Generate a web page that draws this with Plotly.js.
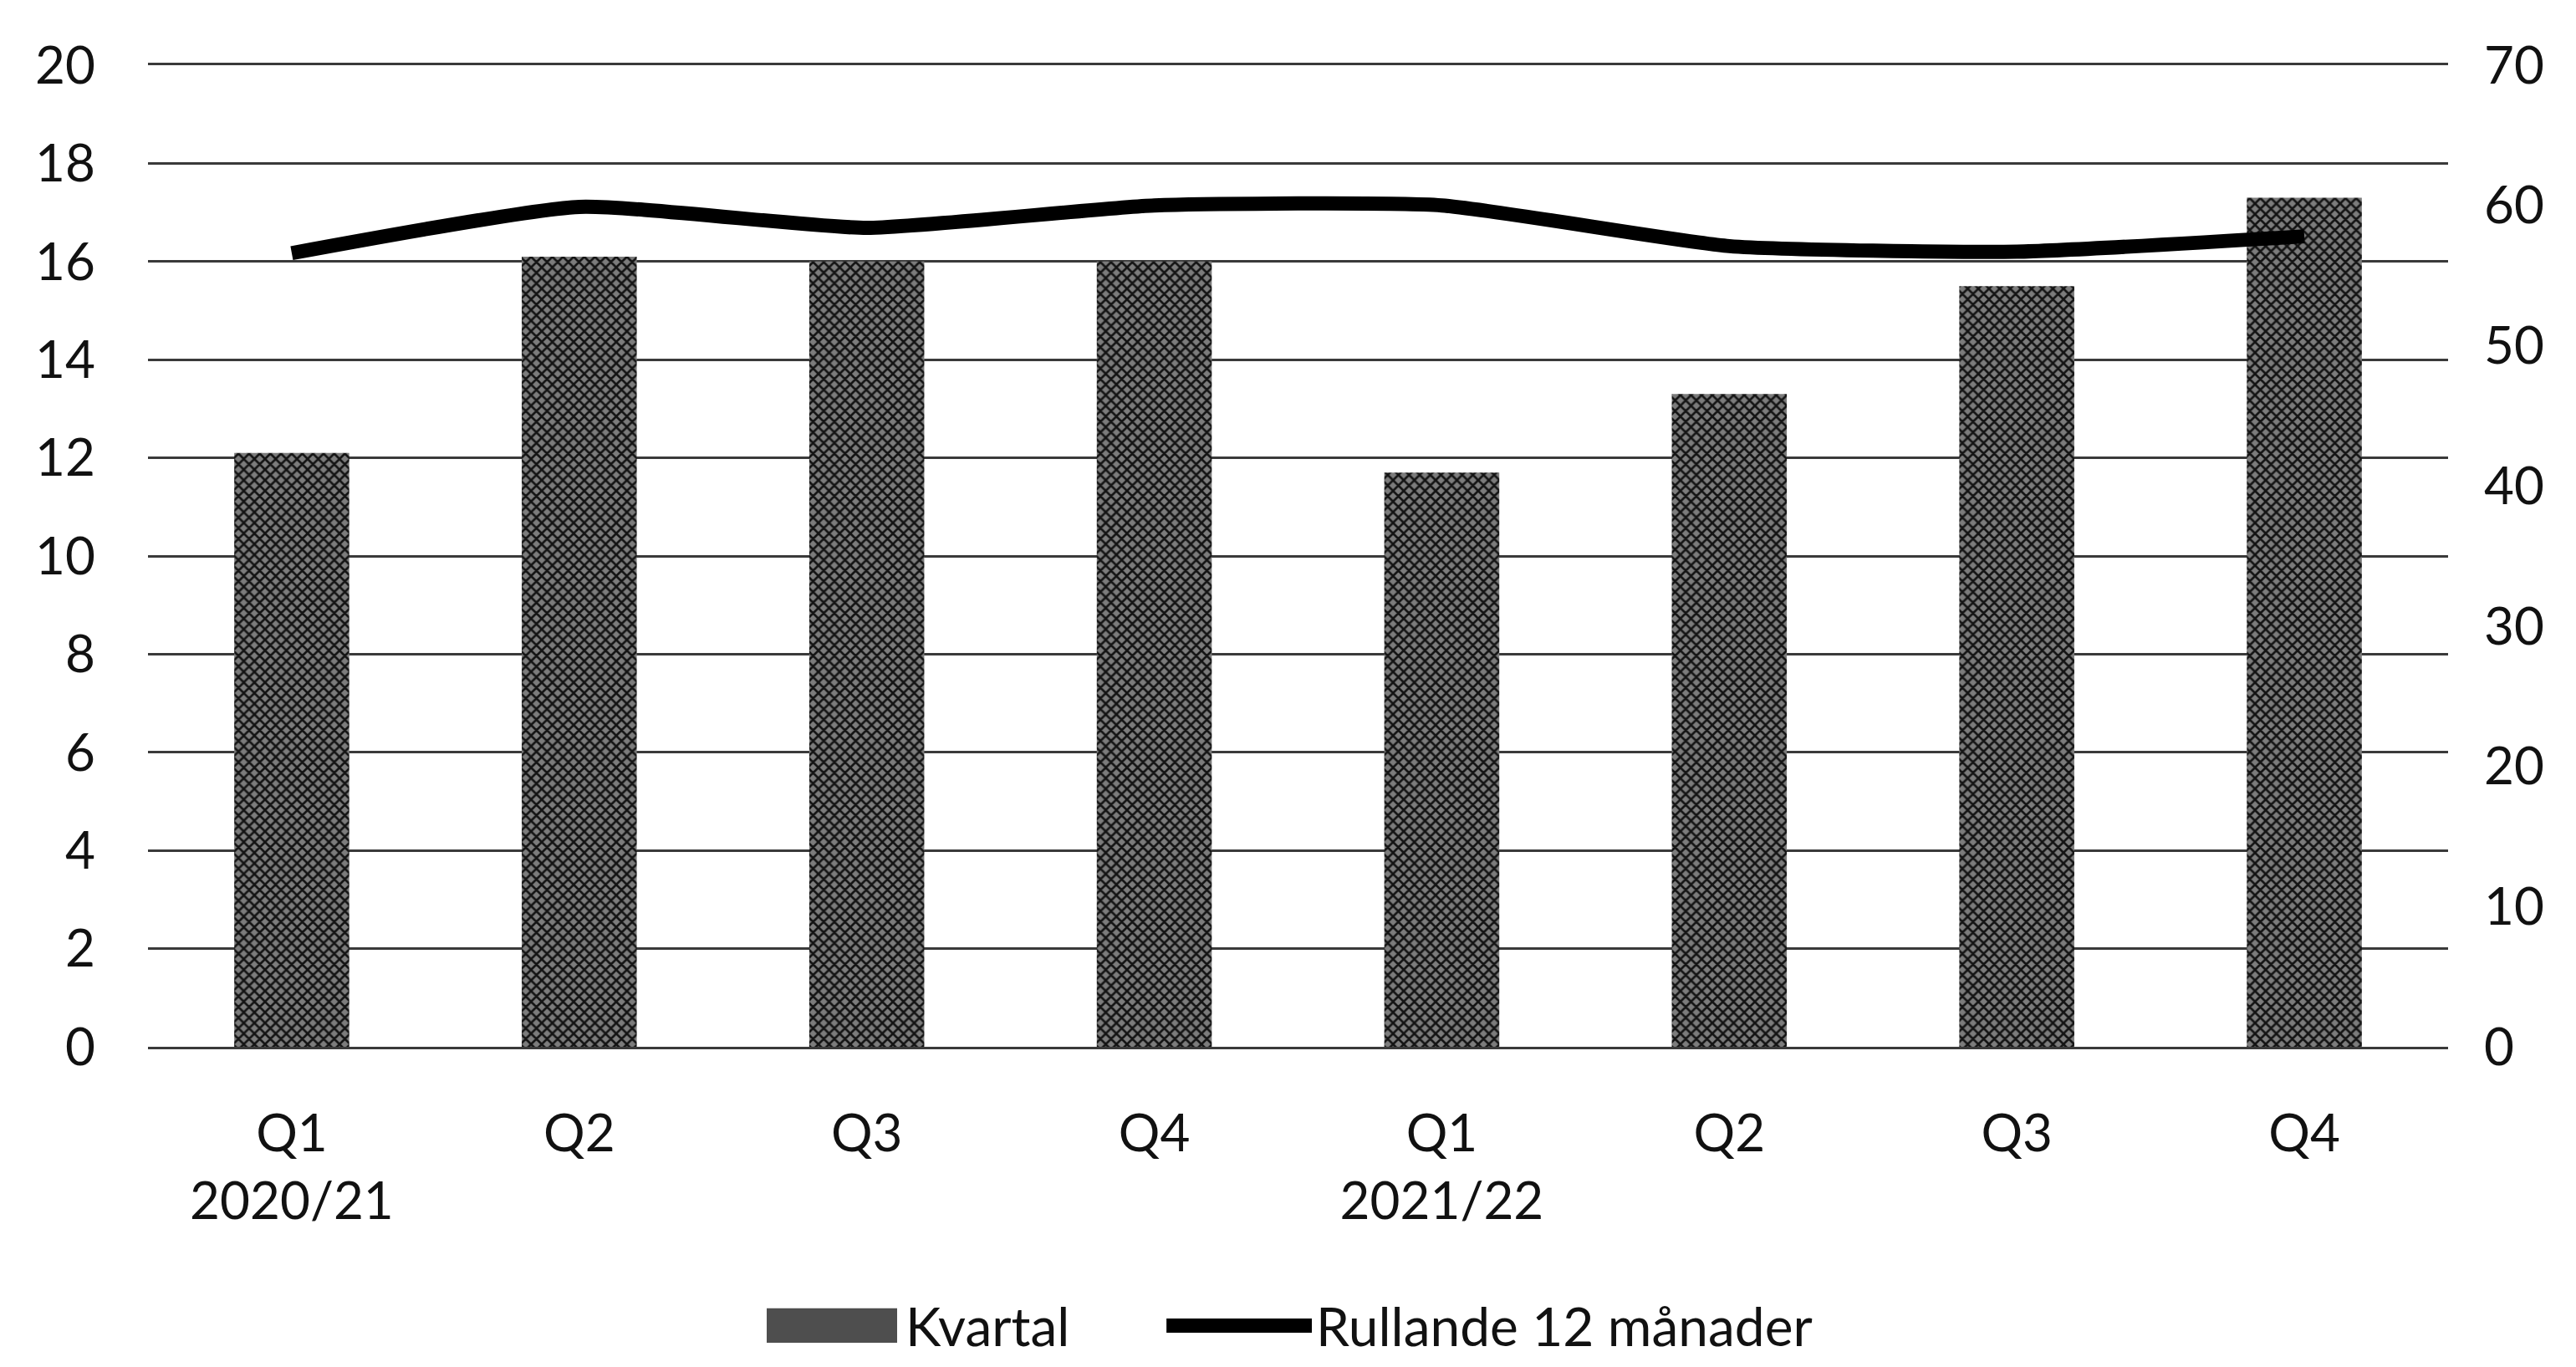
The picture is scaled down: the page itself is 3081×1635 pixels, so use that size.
<!DOCTYPE html>
<html>
<head>
<meta charset="utf-8">
<script src="https://cdn.plot.ly/plotly-3.0.1.min.js"></script>
<style>
  html, body { margin: 0; padding: 0; background: #ffffff; }
  #chart { width: 3081px; height: 1635px; }
</style>
</head>
<body>
<div id="chart"></div>
<script>
// ---- data ----
const quarters = ["Q1", "Q2", "Q3", "Q4", "Q1", "Q2", "Q3", "Q4"];
const fiscalYears = ["2020/21", "2020/21", "2020/21", "2020/21", "2021/22", "2021/22", "2021/22", "2021/22"];
const kvartal = [12.1, 16.1, 16.0, 16.0, 11.7, 13.3, 15.5, 17.3];
const rullande = [56.6, 59.9, 58.4, 60.0, 60.0, 57.1, 56.7, 57.8];
const leftTicks = [0, 2, 4, 6, 8, 10, 12, 14, 16, 18, 20];
const rightTicks = [0, 10, 20, 30, 40, 50, 60, 70];
const seriesNames = ["Kvartal", "Rullande 12 månader"];

// unique category keys, with labels showing the year only under each Q1
const categories = quarters.map((q, i) => q + " " + fiscalYears[i]);
const tickLabels = quarters.map((q, i) =>
  (i === 0 || fiscalYears[i] !== fiscalYears[i - 1]) ? q + "<br>" + fiscalYears[i] : q);

const FONT = "Lato, 'Open Sans', sans-serif";
const BAR_FILL = "#6a6a6a";
const TEXT = "#111111";

const traces = [
  {
    type: "bar",
    name: seriesNames[0],
    x: categories,
    y: kvartal,
    width: 0.4,
    marker: {
      color: BAR_FILL,
      line: { width: 0 },
      pattern: { shape: "x", fgcolor: "#141414", bgcolor: "#7c7c7c", size: 9, solidity: 0.5 }
    },
    hoverinfo: "skip",
    showlegend: false
  },
  {
    type: "scatter",
    mode: "lines",
    name: seriesNames[1],
    x: categories,
    y: rullande,
    yaxis: "y2",
    line: { color: "#000000", width: 17, shape: "spline", smoothing: 0.5 },
    hoverinfo: "skip",
    showlegend: false
  }
];

// legend drawn in paper coordinates below the plot
const legendY = -0.284;
const layout = {
  width: 3081,
  height: 1635,
  paper_bgcolor: "#ffffff",
  plot_bgcolor: "#ffffff",
  margin: { l: 177, r: 153, t: 78, b: 383, pad: 0 },
  font: { family: FONT, size: 62, color: TEXT },
  showlegend: false,
  xaxis: {
    type: "category",
    tickmode: "array",
    tickvals: categories,
    ticktext: tickLabels,
    showgrid: false,
    zeroline: false,
    showline: true,
    mirror: true,
    linecolor: "#3a3a3a",
    linewidth: 3,
    ticks: "",
    ticklabelstandoff: 48,
    tickfont: { family: FONT, size: 62, color: TEXT }
  },
  yaxis: {
    range: [0, 20],
    tickmode: "array",
    tickvals: leftTicks,
    showgrid: true,
    gridcolor: "#3a3a3a",
    gridwidth: 3,
    zeroline: false,
    showline: false,
    ticks: "",
    ticklabelstandoff: 62,
    tickfont: { family: FONT, size: 62, color: TEXT }
  },
  yaxis2: {
    range: [0, 70],
    overlaying: "y",
    side: "right",
    tickmode: "array",
    tickvals: rightTicks,
    showgrid: false,
    zeroline: false,
    showline: false,
    ticks: "",
    ticklabelstandoff: 42,
    tickfont: { family: FONT, size: 62, color: TEXT }
  },
  shapes: [
    {
      type: "rect", xref: "paper", yref: "paper",
      x0: 0.2690, x1: 0.3257, y0: legendY - 0.0175, y1: legendY + 0.0175,
      fillcolor: "#4e4e4e", line: { width: 0 }
    },
    {
      type: "line", xref: "paper", yref: "paper",
      x0: 0.4428, x1: 0.5060, y0: legendY, y1: legendY,
      line: { color: "#000000", width: 17 }
    }
  ],
  annotations: [
    {
      xref: "paper", yref: "paper", x: 0.3290, y: legendY,
      xanchor: "left", yanchor: "middle", showarrow: false, borderpad: 0,
      text: seriesNames[0], font: { family: FONT, size: 64, color: TEXT }
    },
    {
      xref: "paper", yref: "paper", x: 0.5075, y: legendY,
      xanchor: "left", yanchor: "middle", showarrow: false, borderpad: 0,
      text: seriesNames[1], font: { family: FONT, size: 64, color: TEXT }
    }
  ]
};

Plotly.newPlot("chart", traces, layout, { displayModeBar: false, staticPlot: true });
</script>
</body>
</html>
